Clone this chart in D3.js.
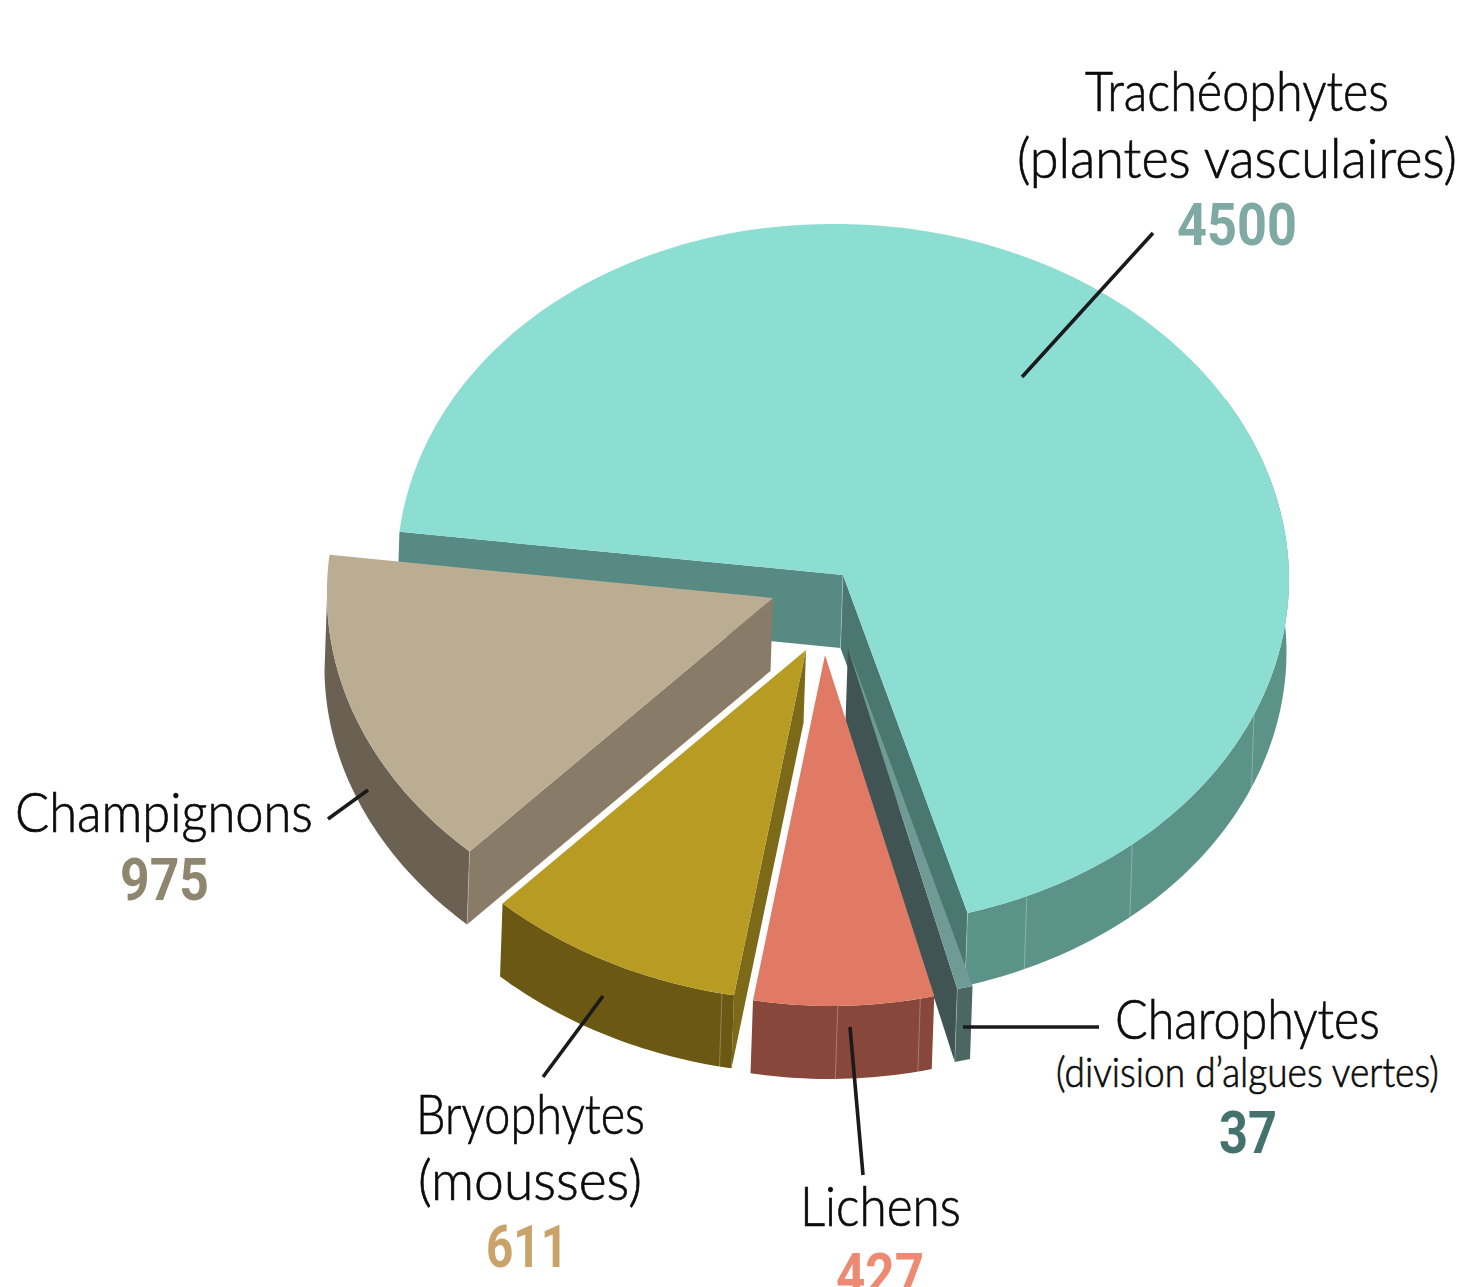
<!DOCTYPE html>
<html><head><meta charset="utf-8">
<script src="https://cdn.jsdelivr.net/npm/d3@7/dist/d3.min.js"></script>
<style>html,body{margin:0;padding:0;background:#fff;overflow:hidden}svg{display:block}</style>
</head><body><svg id="c" width="1459" height="1287"></svg>
<script>
// data, in clockwise order from the back-left edge of the pie
const names = ["Trachéophytes","Charophytes","Lichens","Bryophytes","Champignons"];
const values = [4500,37,427,611,975];
// styles
const topColors = ["#8cded3","#6f9a96","#e07a64","#b79b22","#baad91"];
const arcColors = ["#5c9389","#4c6662","#87483b","#6a5813","#6b6153"];
const startWallColors = ["#568a83","#4b7771","#87483b","#7d6a18","#887c68"];
const endWallColors = ["#4b7771","#3f5453","#87483b","#7d6a18","#887c68"];
const numberColors = {"Trachéophytes":"#7fa9a3","Charophytes":"#44736d","Lichens":"#ef8a72","Bryophytes":"#c9a36a","Champignons":"#8f8670"};
// layout
const W=1459,H=1287,rx=446,ry=351,depth=73,skew=-2.5,shearBack=0.02,shearFront=0.012,bulge=3;
const apexes=[[843,575],[848,648],[825,655],[806,650],[773,598]];
const seamAngles=[[164.33,156.2,140.1,113.4],[166.36],[168.2,178.9],[191.4],[223.4]];

const svg=d3.select("#c");
const rad=d=>d*Math.PI/180;
const slices=d3.pie().sort(null).startAngle(rad(-83)).endAngle(rad(277))(values);
const line=d3.line();
const px=d3.scaleLinear().domain([-1,1]).range([-rx,rx]);
const py=d3.scaleLinear().domain([-1,1]).range([-ry,ry]);
function P(c,t,down=0){
  const s=Math.sin(t),k=Math.cos(t),x=px(s),y=-py(k);
  const dy=s<0?bulge*s*Math.abs(k):0;
  const dx=(y<0?shearBack:shearFront)*y;
  return [c[0]+x+dx+(down?skew:0), c[1]+y+dy+(down?depth:0)];
}
function arcPts(c,a,b,down=0){const n=Math.max(2,Math.ceil(Math.abs(b-a)/rad(1)));return d3.range(n+1).map(i=>P(c,a+(b-a)*i/n,down));}

slices.forEach((s,i)=>{
  const c=apexes[i],a=s.startAngle,b=s.endAngle,g=svg.append("g");
  const cb=[c[0]+skew,c[1]+depth];
  // radial walls: visible when their outward normal faces the viewer
  if(-Math.sin(a)>0) g.append("path").attr("fill",startWallColors[i]).attr("d",line([c,P(c,a),P(c,a,1),cb])+"Z");
  if(Math.sin(b)>0) g.append("path").attr("fill",endWallColors[i]).attr("d",line([c,P(c,b),P(c,b,1),cb])+"Z");
  // outer wall: the near half of the rim, its far end tucked under the top face
  const a1=Math.max(a,rad(60)), b1=Math.min(b,3*Math.PI/2);
  if(b1>a1) g.append("path").attr("fill",arcColors[i]).attr("d",line(arcPts(c,a1,b1).concat(arcPts(c,b1,a1,1)))+"Z");
  // faint seams between side facets
  seamAngles[i].forEach(d=>{const t=rad(d);g.append("path").attr("stroke","#fff").attr("stroke-opacity",.28).attr("stroke-width",1).attr("fill","none").attr("d",line([P(c,t),P(c,t,1)]));});
  if(i===0) g.append("path").attr("stroke","#fff").attr("stroke-opacity",.3).attr("fill","none").attr("d",line([c,cb]));
  // top face
  g.append("path").attr("fill",topColors[i]).attr("d",line([c].concat(arcPts(c,a,b)))+"Z");
});

// leader lines
const leaders=[[[1153,233],[1022,377]],[[368,790],[328,819]],[[603,996],[543,1077]],[[850,1027],[863,1175]],[[963,1027],[1099,1027]]];
svg.append("g").selectAll("path").data(leaders).join("path")
  .attr("d",d=>line(d)).attr("stroke","#1a1a1a").attr("stroke-width",3.6).attr("fill","none");

// labels: [text, left, right, baseline, size, color, bold]
const labels=[
 [names[0],1085,1389,111,56],
 ["(plantes vasculaires)",1017,1457,178,56],
 [String(values[0]),1177,1297,245,59,numberColors[names[0]],1],
 [names[4],15,313,832,56],
 [String(values[4]),120,209,900,59,numberColors[names[4]],1],
 [names[3],416,645,1134,56],
 ["(mousses)",418,642,1200,56],
 [String(values[3]),486,568,1267,59,numberColors[names[3]],1],
 [names[2],800,961,1226,56],
 [String(values[2]),836,924,1295,59,numberColors[names[2]],1],
 [names[1],1115,1380,1039,56],
 ["(division d’algues vertes)",1056,1439,1087,42],
 [String(values[1]),1219,1277,1153,59,numberColors[names[1]],1]
];
svg.append("g").selectAll("text").data(labels).join("text")
  .attr("font-family",d=>d[6]?"Roboto, sans-serif":"Lato, 'Open Sans', sans-serif")
  .attr("font-weight",d=>d[6]?700:300)
  .attr("stroke",d=>d[6]?"none":"#0b0b0b").attr("stroke-width",.7)
  .attr("font-size",d=>d[4]).attr("fill",d=>d[5]||"#0b0b0b").text(d=>d[0])
  .attr("transform",function(d){
    const w=this.getComputedTextLength();
    return `translate(${d[1]},${d[3]}) scale(${(d[2]-d[1])/w},1)`;
  });
</script></body></html>
